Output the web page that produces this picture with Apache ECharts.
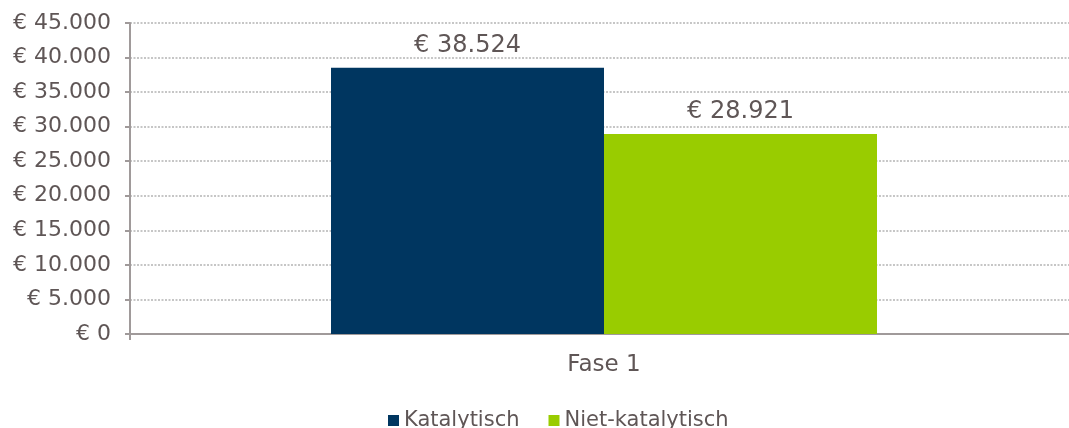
<!DOCTYPE html>
<html>
<head>
<meta charset="utf-8">
<script src="https://cdn.jsdelivr.net/npm/echarts@6/dist/echarts.min.js"></script>
<style>
  html, body { margin: 0; padding: 0; background: #fff; }
  #chart { width: 1069px; height: 428px; }
</style>
</head>
<body>
<div id="chart"></div>
<script>
// data
var categories = ['Fase 1'];
var katalytisch = [38524];
var nietKatalytisch = [28921];
var seriesNames = ['Katalytisch', 'Niet-katalytisch'];

var textColor = '#5f5656';
var fontName = '"DejaVu Sans", Verdana, sans-serif';

// € 38.524 style formatting
var euro = function (v) {
    var s = String(Math.round(v));
    s = s.replace(/\B(?=(\d{3})+(?!\d))/g, '.');
    return '€ ' + s;
};

var myChart = echarts.init(document.getElementById('chart'));
var option = {
    animation: false,
    textStyle: { fontFamily: fontName, color: textColor },
    // plot runs a little past the right edge of the picture, as in the original
    grid: { left: 130, right: -9, top: 23, bottom: 94, containLabel: false, outerBoundsMode: 'none' },
    legend: {
        data: seriesNames,
        left: 383,
        top: 405,
        itemWidth: 11,
        itemHeight: 11,
        itemGap: 29,
        icon: 'rect',
        textStyle: { fontFamily: fontName, color: textColor, fontSize: 21 }
    },
    xAxis: {
        type: 'category',
        data: categories,
        axisLine: { lineStyle: { color: '#a09a9a', width: 2 } },
        axisTick: { show: true, length: 6, lineStyle: { color: '#a09a9a', width: 2 } },
        axisLabel: { color: textColor, fontSize: 23, margin: 20, fontFamily: fontName }
    },
    yAxis: {
        type: 'value',
        min: 0,
        max: 45000,
        interval: 5000,
        axisLine: { show: true, lineStyle: { color: '#a09a9a', width: 2 } },
        axisTick: { show: true, length: 5, lineStyle: { color: '#a09a9a', width: 2 } },
        axisLabel: { color: textColor, fontSize: 22, margin: 19, formatter: euro, fontFamily: fontName },
        splitLine: { show: true, lineStyle: { color: '#b4b4b4', type: [2, 1.5], width: 1.5 } }
    },
    series: [
        {
            name: seriesNames[0],
            type: 'bar',
            data: katalytisch,
            barWidth: 273,
            barGap: '0%',
            itemStyle: { color: '#003660' },
            label: { show: true, position: 'top', distance: 10, formatter: function (p) { return euro(p.value); }, color: textColor, fontSize: 24, fontFamily: fontName }
        },
        {
            name: seriesNames[1],
            type: 'bar',
            data: nietKatalytisch,
            barWidth: 273,
            barGap: '0%',
            itemStyle: { color: '#99cc00' },
            label: { show: true, position: 'top', distance: 10, formatter: function (p) { return euro(p.value); }, color: textColor, fontSize: 24, fontFamily: fontName }
        }
    ]
};
myChart.setOption(option);
</script>
</body>
</html>
